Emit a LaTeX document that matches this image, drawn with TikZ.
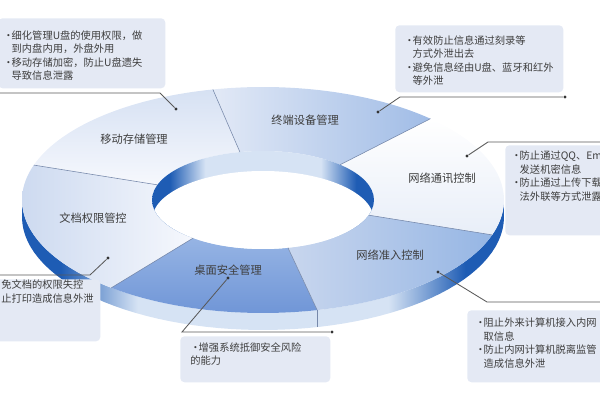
\documentclass[tikz,border=0pt]{standalone}
\usepackage{fontspec}
\setmainfont{Noto Sans CJK SC}
\usepackage{tikz}
\usetikzlibrary{positioning,calc}
\definecolor{boxfill}{RGB}{228,233,244}
\definecolor{walldark}{RGB}{30,92,180}
\definecolor{walllight}{RGB}{214,227,244}
\definecolor{segline}{RGB}{118,136,170}
\definecolor{inktext}{RGB}{62,62,62}
\pgfdeclarehorizontalshading{wall}{100bp}{color(0bp)=(walldark); color(29bp)=(walldark); color(37bp)=(walllight); color(63bp)=(walllight); color(71bp)=(walldark); color(100bp)=(walldark)}
\newcommand\itm{\makebox[6pt][l]{•}}
\newcommand\cnt{\hspace*{6pt}}
\tikzset{
 ringpart/.style 2 args={insert path={plot[domain=#1:#2,samples=36] ({263+241*cos(\x)},{200-113*sin(\x)})
   -- plot[domain=#2:#1,samples=36] ({263+111*cos(\x)},{200-49*sin(\x)}) -- cycle}},
 seglabel/.style={font=\fontsize{8}{9}\selectfont,text=inktext},
 callout/.style={fill=boxfill,rounded corners=3pt,inner sep=0pt,anchor=north west},
 note/.style={font=\fontsize{7.3}{9.6}\selectfont,text=inktext,align=left,inner sep=0pt,anchor=north west},
 dot/.style={circle,fill=black!80,inner sep=0pt,minimum size=2.4pt},
 leader/.style={draw=black!65,line width=0.6pt},
 seam/.style={draw=segline,line width=0.4pt}}

\begin{document}
\begin{tikzpicture}[x=0.025cm,y=-0.025cm]
  \path[use as bounding box,clip] (0,0) rectangle (600,400);
  % ring
  \shade[shading=wall] plot[domain=180:360,samples=60] ({263+241*cos(\x)},{200-113*sin(\x)})
     -- plot[domain=360:180,samples=60] ({263+241*cos(\x)},{217-113*sin(\x)}) -- cycle;
  \shade[top color=white,bottom color={rgb,255:red,232;green,238;blue,248},ringpart={-18}{46}];
  \shade[left color={rgb,255:red,226;green,233;blue,246},right color={rgb,255:red,160;green,188;blue,230},ringpart={46}{102}];
  \shade[top color={rgb,255:red,214;green,225;blue,243},bottom color={rgb,255:red,246;green,248;blue,253},ringpart={102}{162}];
  \shade[left color={rgb,255:red,205;green,218;blue,240},right color={rgb,255:red,246;green,248;blue,253},ringpart={162}{231}];
  \shade[top color={rgb,255:red,150;green,180;blue,228},bottom color={rgb,255:red,112;green,150;blue,215},ringpart={231}{283}];
  \shade[left color={rgb,255:red,200;green,214;blue,238},right color={rgb,255:red,150;green,182;blue,228},ringpart={283}{342}];
  \begin{scope}
    \clip (263,200) ellipse [x radius=111,y radius=49];
    \shade[shading=wall] (263,200) ellipse [x radius=111,y radius=49];
    \fill[white] (263,220) ellipse [x radius=111,y radius=49];
  \end{scope}
  \foreach \a in {102,46,-18,-77,231,162}
    \draw[seam] ({263+111*cos(\a)},{200-49*sin(\a)}) -- ({263+241*cos(\a)},{200-113*sin(\a)});
  \draw[seam] ({263+241*cos(-77)},{200-113*sin(-77)}) -- ({263+241*cos(-77)},{217-113*sin(-77)});

  \node[seglabel] (s1) at (134,139) {移动存储管理};
  \node[seglabel] (s2) at (305,120) {终端设备管理};
  \node[seglabel] (s3) at (442,178) {网络通讯控制};
  \node[seglabel] (s4) at (93,218) {文档权限管控};
  \node[seglabel] (s5) at (228,270) {桌面安全管理};
  \node[seglabel] (s6) at (390,255) {网络准入控制};

  % callouts
  \node[callout,minimum width=4.175cm,minimum height=1.75cm] (b1) at (-2,18) {};
  \node[callout,minimum width=4.2cm,minimum height=1.675cm] (b2) at (395,25) {};
  \node[callout,minimum width=2.5cm,minimum height=2.25cm] (b3) at (505,145) {};
  \node[callout,minimum width=2.625cm,minimum height=1.55cm] (b4) at (-5,279) {};
  \node[callout,minimum width=3.75cm,minimum height=1.15cm] (b5) at (180,336) {};
  \node[callout,minimum width=3.5cm,minimum height=1.8cm] (b6) at (467,310) {};

  \node[note] (t1) at (3,30) {\itm 细化管理U盘的使用权限，做\\\cnt 到内盘内用，外盘外用\\\itm 移动存储加密，防止U盘遗失\\\cnt 导致信息泄露};
  \node[note] (t2) at (404,35) {\itm 有效防止信息通过刻录等\\\cnt 方式外泄出去\\\itm 避免信息经由U盘、蓝牙和红外\\\cnt 等外泄};
  \node[note] (t3) at (511,151) {\itm 防止通过QQ、Em\\\cnt 发送机密信息\\\itm 防止通过上传下载\\\cnt 法外联等方式泄露};
  \node[note] (t4) at (1,280) {免文档的权限失控\\止打印造成信息外泄};
  \node[note] (t5) at (190,342) {\itm 增强系统抵御安全风险\\的能力};
  \node[note] (t6) at (475,318) {\itm 阻止外来计算机接入内网\\\cnt 取信息\\\itm 防止内网计算机脱离监管\\\cnt 造成信息外泄};

  % leaders
  \node[dot] (d1) at (176,109) {};
  \node[dot] (d2) at (378,112) {};
  \node[dot] (d3) at (467,156) {};
  \node[dot] (d4) at (108,258) {};
  \node[dot] (d5) at (228,278) {};
  \node[dot] (d6) at (438,272) {};
  \node[dot] (e2) at (565,97) {};
  \node[dot] (e5) at (332,332) {};
  \coordinate (k1) at (160,93);  \coordinate (e1) at (0,93);
  \coordinate (k2) at (400,97);
  \coordinate (k3) at (488,142); \coordinate (e3) at (600,142);
  \coordinate (k4) at (90,275);  \coordinate (e4) at (0,275);
  \coordinate (k5) at (182,332);
  \coordinate (k6) at (487,302); \coordinate (e6) at (600,302);
  \draw[leader] (d1) -- (k1) -- (e1);
  \draw[leader] (d2) -- (k2) -- (e2);
  \draw[leader] (d3) -- (k3) -- (e3);
  \draw[leader] (d4) -- (k4) -- (e4);
  \draw[leader] (d5) -- (k5) -- (e5);
  \draw[leader] (d6) -- (k6) -- (e6);
\end{tikzpicture}
\end{document}
